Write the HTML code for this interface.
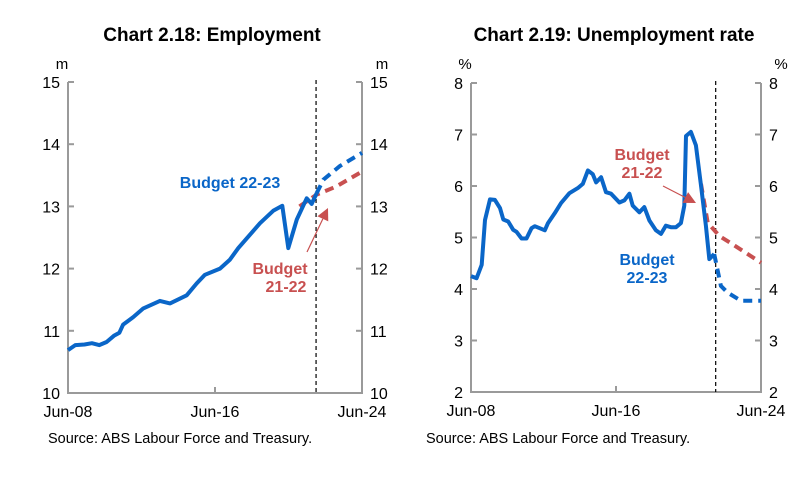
<!DOCTYPE html>
<html><head><meta charset="utf-8"><style>
body{margin:0;background:#fff;font-family:"Liberation Sans",Arial,sans-serif}
svg text{font-family:"Liberation Sans",Arial,sans-serif}
</style></head><body>
<svg width="805" height="473" viewBox="0 0 805 473">
<g id="c1"></g>
<g id="c2"></g>
</svg>
<script>
// Employment (years since Jun-08, millions)
const empActualT=[0,0.4,0.9,1.3,1.7,2.1,2.5,2.8,3.0,3.55,4.1,5.0,5.55,6.46,7.0,7.45,8.27,8.8,9.27,10.45,11.17,11.66,11.99,12.45,12.99,13.26,13.53];
const empActualV=[10.69,10.77,10.78,10.8,10.77,10.82,10.92,10.97,11.1,11.22,11.36,11.48,11.44,11.57,11.76,11.9,12.0,12.14,12.33,12.73,12.93,13.01,12.33,12.79,13.13,13.04,13.21];
const empFcT=[13.53,13.9,14.8,16];
const empFcV=[13.21,13.43,13.65,13.86];
const empOldT=[12.6,13.53,14.6,16];
const empOldV=[13.0,13.19,13.32,13.56];
const empTicks=[10,11,12,13,14,15];
// Unemployment rate (%)
const urActualT=[0,0.31,0.59,0.77,1.05,1.32,1.6,1.78,2.05,2.33,2.51,2.79,3.06,3.34,3.52,3.79,4.07,4.25,4.62,4.97,5.43,5.89,6.17,6.45,6.72,6.9,7.18,7.45,7.73,8.19,8.46,8.74,8.92,9.29,9.56,9.84,10.2,10.48,10.75,11.03,11.31,11.58,11.77,11.86,12.13,12.41,12.69,12.96,13.15,13.42];
const urActualV=[4.25,4.21,4.47,5.34,5.74,5.73,5.57,5.35,5.31,5.15,5.11,4.98,4.98,5.18,5.22,5.18,5.14,5.28,5.47,5.67,5.86,5.96,6.04,6.3,6.23,6.07,6.17,5.88,5.85,5.68,5.72,5.85,5.62,5.49,5.59,5.33,5.14,5.07,5.23,5.2,5.2,5.28,5.62,6.97,7.05,6.79,6.01,5.23,4.58,4.68];
const urFcT=[13.42,13.79,14.16,14.9,16];
const urFcV=[4.68,4.06,3.93,3.77,3.77];
const urOldT=[12.69,13.06,13.7,14.43,16];
const urOldV=[6.04,5.29,5.03,4.87,4.51];
const urTicks=[2,3,4,5,6,7,8];
const xLabels=["Jun-08","Jun-16","Jun-24"];
const xLabelT=[0,8,16];

const NS="http://www.w3.org/2000/svg";
function mk(p,tag,a,txt){const e=document.createElementNS(NS,tag);for(const k in a)e.setAttribute(k,a[k]);if(txt!==undefined)e.textContent=txt;p.appendChild(e);return e;}
const BLUE="#0a66c8",RED="#c85050";

function chart(g,o){
 const sx=t=>o.x0+(o.x1-o.x0)*t/16, sy=v=>o.y1-(o.y1-o.y0)*(v-o.vmin)/(o.vmax-o.vmin);
 let e=mk(g,'text',{x:o.cx,y:41,'text-anchor':'middle','font-size':19,'font-weight':'bold'},o.title);
 
 
 e=mk(g,'text',{x:o.x0-6,y:69,'font-size':15,'text-anchor':'middle'},o.unit);
 
 
 e=mk(g,'text',{x:o.x1+20,y:69,'font-size':15,'text-anchor':'middle'},o.unit);
 
 
 e=mk(g,'path',{d:`M${o.x0},${o.y0}V${o.y1}H${o.x1}V${o.y0}`,fill:'none',stroke:'#9a9a9a','stroke-width':2});
 
 
 o.ticks.forEach(v=>{
  const y=sy(v);
  mk(g,'line',{x1:o.x0,x2:o.x0+6,y1:y,y2:y,stroke:'#9a9a9a','stroke-width':2});
  mk(g,'line',{x1:o.x1-6,x2:o.x1,y1:y,y2:y,stroke:'#9a9a9a','stroke-width':2});
  let t=mk(g,'text',{x:o.x0-8,y:y+6,'text-anchor':'end','font-size':16},v);
  
  
  t=mk(g,'text',{x:o.x1+8,y:y+6,'text-anchor':'start','font-size':16},v);
  
  
 });
 xLabelT.forEach((t,i)=>{
  const x=sx(t);
  if(i==1) mk(g,'line',{x1:x,x2:x,y1:o.y1-6,y2:o.y1,stroke:'#9a9a9a','stroke-width':2});
  let l=mk(g,'text',{x:x,y:o.y1+24,'text-anchor':'middle','font-size':16},xLabels[i]);
  
  
 });
 const vx=sx(13.5);
 e=mk(g,'line',{x1:vx,x2:vx,y1:o.y0-2,y2:o.y1,stroke:'#000','stroke-width':1.2,'stroke-dasharray':'4,3'});
 
 
 const path=(T,V)=>T.map((t,i)=>(i?'L':'M')+sx(t).toFixed(1)+','+sy(V[i]).toFixed(1)).join('');
 e=mk(g,'path',{d:path(o.oT,o.oV),fill:'none',stroke:RED,'stroke-width':4,'stroke-dasharray':'9,6'});
 
 
 e=mk(g,'path',{d:path(o.aT,o.aV),fill:'none',stroke:BLUE,'stroke-width':4,'stroke-linejoin':'round'});
 
 
 e=mk(g,'path',{d:path(o.fT,o.fV),fill:'none',stroke:BLUE,'stroke-width':4,'stroke-dasharray':'9,6'});
 
 
 const [ax1,ay1,ax2,ay2]=o.arrow;
 const ang=Math.atan2(ay2-ay1,ax2-ax1),L=12,W=6;
 e=mk(g,'line',{x1:ax1,y1:ay1,x2:ax2-Math.cos(ang)*L,y2:ay2-Math.sin(ang)*L,stroke:RED,'stroke-width':1.2});
 
 
 const bx=ax2-Math.cos(ang)*L,by=ay2-Math.sin(ang)*L;
 e=mk(g,'polygon',{points:`${ax2},${ay2} ${bx-Math.sin(ang)*W},${by+Math.cos(ang)*W} ${bx+Math.sin(ang)*W},${by-Math.cos(ang)*W}`,fill:RED});
 
 
 o.labels.forEach(l=>{
  let t=mk(g,'text',{x:l[0],y:l[1],'text-anchor':'middle','font-size':16,'font-weight':'bold',fill:l[3]},l[2]);
  
  
 });
 e=mk(g,'text',{x:o.srcX,y:443,'font-size':14.5},'Source: ABS Labour Force and Treasury.');
 
 
}
chart(document.getElementById('c1'),{title:'Chart 2.18: Employment',cx:212,unit:'m',x0:68,x1:362,y0:82,y1:393,vmin:10,vmax:15,ticks:empTicks,
 aT:empActualT,aV:empActualV,fT:empFcT,fV:empFcV,oT:empOldT,oV:empOldV,arrow:[307,252,328,208],
 labels:[[230,188,'Budget 22-23',BLUE],[280,274,'Budget',RED],[286,292,'21-22',RED]],srcX:48});
chart(document.getElementById('c2'),{title:'Chart 2.19: Unemployment rate',cx:614,unit:'%',x0:471,x1:761,y0:83,y1:392,vmin:2,vmax:8,ticks:urTicks,
 aT:urActualT,aV:urActualV,fT:urFcT,fV:urFcV,oT:urOldT,oV:urOldV,arrow:[663,186,696,203],
 labels:[[642,160,'Budget',RED],[642,178,'21-22',RED],[647,265,'Budget',BLUE],[647,283,'22-23',BLUE]],srcX:426});
</script>
</body></html>
